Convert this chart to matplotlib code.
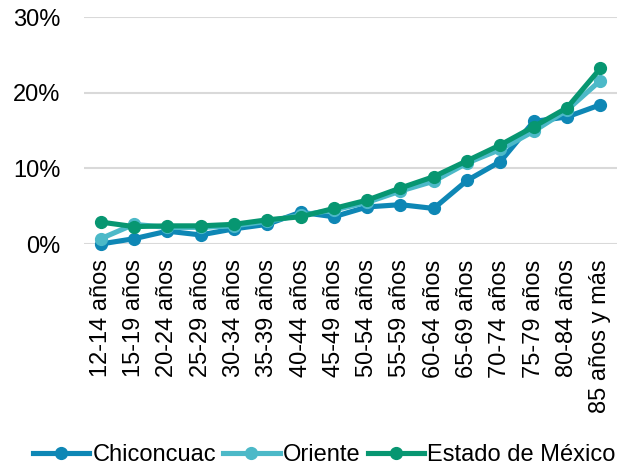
import matplotlib.pyplot as plt
from matplotlib.ticker import PercentFormatter

plt.rcParams['font.family'] = ['Liberation Sans', 'DejaVu Sans']

grupos = ['12-14 años', '15-19 años', '20-24 años', '25-29 años', '30-34 años',
          '35-39 años', '40-44 años', '45-49 años', '50-54 años', '55-59 años',
          '60-64 años', '65-69 años', '70-74 años', '75-79 años', '80-84 años',
          '85 años y más']

chiconcuac = [0.0, 0.7, 1.7, 1.2, 2.0, 2.6, 4.2, 3.6, 4.9, 5.2, 4.7, 8.4, 10.9, 16.2, 16.8, 18.4]
oriente = [0.7, 2.6, 2.2, 2.2, 2.4, 3.0, 3.8, 4.5, 5.5, 7.0, 8.3, 10.7, 12.5, 14.9, 17.7, 21.6]
edomex = [2.9, 2.3, 2.4, 2.4, 2.6, 3.2, 3.6, 4.7, 5.8, 7.4, 8.9, 11.0, 13.1, 15.5, 18.0, 23.2]

fig = plt.figure(figsize=(6.27, 4.67), dpi=100)
ax = fig.add_axes([0.134, 0.4775, 0.85, 0.486])

x = range(len(grupos))
estilo = dict(lw=3.7, ms=8.5, clip_on=False)
ax.plot(x, chiconcuac, '-o', color='#0e87b5', label='Chiconcuac', zorder=3, **estilo)
ax.plot(x, oriente, '-o', color='#4cb9c8', label='Oriente', zorder=4, **estilo)
ax.plot(x, edomex, '-o', color='#079671', label='Estado de México', zorder=5, **estilo)

ax.set_xlim(-0.5, len(grupos) - 0.5)
ax.set_ylim(0, 30)
ax.set_yticks([0, 10, 20, 30])
ax.yaxis.set_major_formatter(PercentFormatter(decimals=0))
ax.set_xticks(list(x))
ax.set_xticklabels(grupos, rotation=90)
ax.tick_params(axis='both', length=0, labelsize=17, pad=11)
ax.tick_params(axis='y', pad=17)
ax.grid(axis='y', color='#d9d9d9', lw=1.5)
ax.set_axisbelow(True)
for s in ax.spines.values():
    s.set_visible(False)

fig.legend(loc='center', bbox_to_anchor=(0.517, 0.026), ncol=3, frameon=False,
           fontsize=17, handlelength=2.4, handletextpad=0.13, columnspacing=0.3)

fig.savefig('out.png', dpi=100)
